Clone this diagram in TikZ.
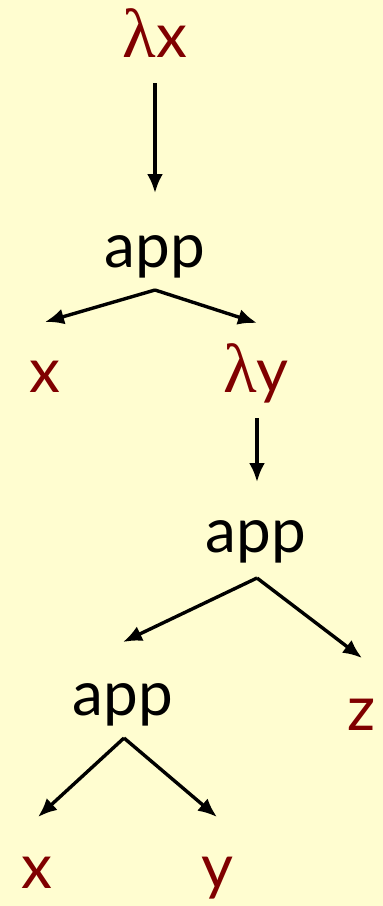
\documentclass[tikz,border=0pt]{standalone}
\usepackage{fontspec}
\setmainfont{Lato}
\newfontfamily\grk[Scale=1.12]{Liberation Serif}
\usetikzlibrary{arrows.meta}
\definecolor{BackClr}{RGB}{255,253,208}
\definecolor{VarClr}{RGB}{128,0,0}

\begin{document}
\begin{tikzpicture}[x=1pt,y=-1pt,
  term/.style={anchor=base,inner sep=0pt,font=\fontsize{62}{68}\selectfont},
  var/.style={term,text=VarClr},
  arr/.style={line width=3.4pt,-{Latex[length=19pt,width=16pt]}}]

\fill[BackClr] (0,0) rectangle (383,906);
\useasboundingbox (0,0) rectangle (383,906);

\node[var] (lx) at (155,57) {{\grk λ}x};
\node[term] (app1) at (155,267) {app};
\node[var] (x1) at (45,392) {x};
\node[var] (ly) at (256,392) {{\grk λ}y};
\node[term] (app2) at (256,552) {app};
\node[term] (app3) at (123,715) {app};
\node[var] (z) at (362,730) {z};
\node[var] (x2) at (37,888) {x};
\node[var] (y2) at (217,888) {y};

\draw[arr] ([yshift=-26pt]lx.base) -- ([yshift=74pt]app1.base);

\draw[arr] ([yshift=-23pt]app1.base) -- ([yshift=70pt]x1.base);
\draw[arr] ([yshift=-23pt]app1.base) -- ([xshift=1pt,yshift=69pt]ly.base);

\draw[arr] ([xshift=1pt,yshift=-26pt]ly.base) -- ([xshift=1pt,yshift=70pt]app2.base);

\draw[arr] ([xshift=1pt,yshift=-26pt]app2.base) -- ([yshift=73pt]app3.base);
\draw[arr] ([xshift=1pt,yshift=-26pt]app2.base) -- ([yshift=72pt]z.base);

\draw[arr] ([xshift=1pt,yshift=-23pt]app3.base) -- ([xshift=1pt,yshift=71pt]x2.base);
\draw[arr] ([xshift=1pt,yshift=-23pt]app3.base) -- ([yshift=71pt]y2.base);

\end{tikzpicture}
\end{document}
